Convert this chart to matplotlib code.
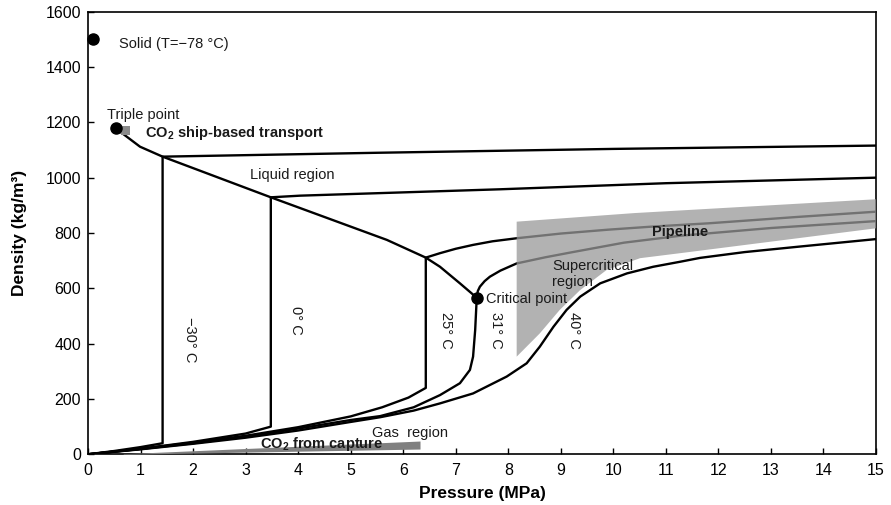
import matplotlib
matplotlib.use("Agg")
import matplotlib.pyplot as plt

plt.rcParams['font.family'] = ['Liberation Sans', 'DejaVu Sans']
plt.rcParams['mathtext.fontset'] = 'custom'
plt.rcParams['mathtext.rm'] = 'Liberation Sans'
plt.rcParams['mathtext.bf'] = 'Liberation Sans:bold'

# saturated liquid line, triple point -> critical point
sat_liq_p = [0.53, 0.99, 1.42, 3.48, 4.04, 5.69, 6.43, 6.70, 7.08, 7.40]
sat_liq_rho = [1178, 1112, 1076, 929, 890, 775, 711, 678, 618, 566]

# isotherms (gas branch, vertical jump, liquid branch)
iso_m30_p = [0, 0.5, 1.0, 1.42, 1.42, 5.5, 10, 15]
iso_m30_rho = [0, 12, 26, 40, 1076, 1090, 1104, 1116]

iso_0_p = [0, 1, 2, 3, 3.48, 3.48, 4.04, 7.84, 11, 15]
iso_0_rho = [0, 20, 45, 75, 100, 929, 935, 958, 980, 1000]

iso_25_p = [0, 1, 2, 3, 4, 5, 5.6, 6.1, 6.43, 6.43, 6.70, 7.0, 7.33, 7.7, 8.16, 9.0,
            9.9, 10.73, 11.81, 13.5, 15]
iso_25_rho = [0, 20, 42, 67, 98, 137, 170, 205, 240, 711, 727, 743, 757, 770, 781, 798,
              812, 823, 835, 858, 877]

iso_31_p = [0, 1, 2, 3, 4, 5, 5.56, 6.2, 6.70, 7.08, 7.27, 7.33, 7.37, 7.40, 7.42, 7.46,
            7.55, 7.65, 7.85, 8.16, 8.7, 9.2, 10.2, 11.27, 13.0, 15]
iso_31_rho = [0, 19, 40, 64, 93, 124, 138, 170, 214, 257, 305, 353, 449, 566, 590, 606,
              626, 642, 664, 690, 712, 730, 765, 790, 818, 843]

iso_40_p = [0, 1, 2, 3, 4, 5, 5.56, 6.2, 6.70, 7.33, 7.97, 8.35, 8.60, 8.86, 9.11, 9.37,
            9.75, 10.26, 10.76, 11.27, 11.65, 12.5, 13.55, 15]
iso_40_rho = [0, 18, 38, 60, 86, 117, 134, 158, 184, 220, 281, 329, 389, 461, 522, 570,
              618, 654, 678, 696, 710, 731, 751, 778]

# special points
solid_pt = (0.09, 1500)
triple_pt = (0.53, 1178)
critical_pt = (7.40, 566)

# pipeline window
pipe_top_p = [8.16, 10.4, 15]
pipe_top_rho = [841, 872, 922]
pipe_bot_p = [8.16, 8.60, 8.98, 9.37, 9.87, 10.51, 11.27, 15]
pipe_bot_rho = [353, 437, 522, 594, 666, 709, 727, 817]

# capture window
cap_p = [0.67, 6.32]
cap_top = [2, 48]
cap_bot = [0, 19]

# ship transport window
ship_p = [0.62, 0.80]
ship_low = [1155, 1155]
ship_high = [1185, 1185]

fig = plt.figure(figsize=(8.91, 5.05), dpi=100)
ax = fig.add_axes([88 / 891, 1 - 454.3 / 505, (876 - 88) / 891, (454.3 - 11.7) / 505])

lw = 1.7
for p, r in [(sat_liq_p, sat_liq_rho), (iso_m30_p, iso_m30_rho), (iso_0_p, iso_0_rho),
             (iso_25_p, iso_25_rho), (iso_31_p, iso_31_rho), (iso_40_p, iso_40_rho)]:
    ax.plot(p, r, color='black', lw=lw, zorder=2, solid_joinstyle='round')

# shaded windows
ax.fill(pipe_top_p + pipe_bot_p[::-1], pipe_top_rho + pipe_bot_rho[::-1],
        color='#999999', alpha=0.75, lw=0, zorder=3)
ax.fill_between(cap_p, cap_bot, cap_top, color='#808080', lw=0, zorder=3)
ax.fill_between(ship_p, ship_low, ship_high, color='#8a8a8a', lw=0, zorder=3)

ms = 8
ax.plot(*solid_pt, 'o', color='black', ms=ms, zorder=5, clip_on=False)
ax.plot(*triple_pt, 'o', color='black', ms=ms, zorder=5)
ax.plot(*critical_pt, 'o', color='black', ms=ms, zorder=5)

fs = 10.5
tc = '#1a1a1a'
ax.text(0.59, 1484, 'Solid (T=\u221278 \u00b0C)', fontsize=fs, color=tc, va='center')
ax.text(0.36, 1227, 'Triple point', fontsize=fs, color=tc, va='center')
ax.text(1.085, 1146, r'CO$_\mathbf{2}$ ship-based transport', fontsize=fs, color=tc,
        fontweight='bold', va='baseline', zorder=6)
ax.text(3.08, 1010, 'Liquid region', fontsize=fs, color=tc, va='center')
ax.text(11.27, 805, 'Pipeline', fontsize=fs, color=tc, fontweight='bold', ha='center',
        va='center', zorder=6)
ax.text(8.83, 651, 'Supercritical\nregion', fontsize=fs, color=tc, va='center',
        linespacing=1.2, zorder=6)
ax.text(7.58, 560, 'Critical point', fontsize=fs, color=tc, va='center', zorder=6)
ax.text(5.40, 76, 'Gas  region', fontsize=fs, color=tc, va='center')
ax.text(3.27, 24, r'CO$_\mathbf{2}$ from capture', fontsize=fs, color=tc,
        fontweight='bold', va='baseline', zorder=6)

iso_labels = ['\u221230\u00b0 C', '0\u00b0 C', '25\u00b0 C', '31\u00b0 C', '40\u00b0 C']
iso_label_p = [1.94, 3.96, 6.81, 7.77, 9.26]
iso_label_rho = [413, 485, 449, 449, 449]
for s, p, r in zip(iso_labels, iso_label_p, iso_label_rho):
    ax.text(p, r, s, fontsize=fs, color=tc, rotation=270, ha='center', va='center', zorder=6)

ax.set_xlim(0, 15)
ax.set_ylim(0, 1600)
ax.set_xticks(range(0, 16))
ax.set_yticks(range(0, 1601, 200))
ax.tick_params(direction='in', length=4, width=1, labelsize=11.5, colors='black')
ax.tick_params(axis='x', pad=6)
ax.tick_params(axis='y', pad=5)
for sp in ax.spines.values():
    sp.set_linewidth(1.2)

ax.set_xlabel('Pressure (MPa)', fontsize=12.5, fontweight='bold', labelpad=6)
ax.set_ylabel('Density (kg/m\u00b3)', fontsize=12.5, fontweight='bold', labelpad=13)

fig.savefig('out.png', dpi=100)
